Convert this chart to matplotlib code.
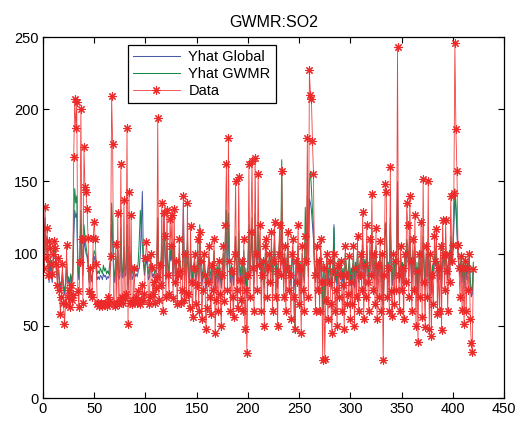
import matplotlib
matplotlib.use("Agg")
import matplotlib.pyplot as plt
import numpy as np

title = "GWMR:SO2"
labels = ["Yhat Global", "Yhat GWMR", "Data"]
xticks = [0, 50, 100, 150, 200, 250, 300, 350, 400, 450]
yticks = [0, 50, 100, 150, 200, 250]

data = [
    90, 132, 97, 118, 85, 109, 104, 93, 86, 100,
    109, 104, 93, 78, 97, 75, 58, 70, 93, 66,
    51, 65, 106, 70, 75, 63, 78, 68, 71, 167,
    207, 187, 205, 74, 63, 94, 200, 110, 66, 174,
    146, 143, 131, 111, 74, 90, 72, 70, 111, 122,
    110, 93, 65, 66, 64, 65, 66, 64, 65, 65,
    66, 64, 70, 65, 67, 98, 209, 176, 65, 64,
    107, 66, 128, 65, 68, 162, 70, 66, 137, 69,
    72, 187, 51, 143, 66, 127, 65, 68, 90, 67,
    70, 66, 74, 67, 65, 68, 78, 68, 72, 97,
    108, 97, 65, 70, 100, 91, 72, 80, 66, 76,
    84, 194, 68, 92, 78, 135, 60, 128, 112, 70,
    130, 85, 72, 124, 105, 127, 69, 131, 80, 95,
    65, 85, 110, 88, 66, 75, 140, 68, 100, 73,
    135, 72, 62, 119, 80, 56, 90, 100, 65, 78,
    110, 60, 115, 95, 55, 75, 100, 85, 48, 62,
    80, 105, 70, 58, 92, 75, 110, 45, 68, 88,
    60, 95, 72, 50, 85, 105, 67, 120, 162, 75,
    180, 95, 60, 88, 70, 56, 100, 150, 75, 62,
    153, 82, 68, 95, 60, 110, 48, 75, 31, 85,
    162, 70, 115, 164, 90, 60, 166, 100, 75, 155,
    92, 120, 60, 85, 95, 50, 105, 110, 70, 90,
    100, 80, 115, 60, 95, 122, 70, 88, 50, 100,
    120, 85, 157, 95, 70, 105, 60, 90, 115, 75,
    85, 55, 100, 110, 70, 48, 95, 80, 120, 65,
    90, 45, 105, 75, 60, 112, 95, 180, 70, 227,
    210, 207, 178, 155, 85, 60, 105, 75, 95, 60,
    110, 80, 26, 90, 27, 68, 100, 55, 80, 95,
    65, 45, 88, 100, 60, 75, 50, 92, 70, 85,
    95, 60, 78, 48, 105, 85, 65, 72, 98, 55,
    80, 65, 105, 50, 90, 70, 112, 60, 85, 100,
    75, 129, 55, 92, 70, 120, 80, 60, 110, 85,
    141, 75, 100, 65, 118, 55, 92, 70, 109, 60,
    100, 26, 85, 148, 143, 70, 90, 60, 160, 74,
    57, 100, 65, 95, 75, 243, 85, 60, 105, 75,
    90, 55, 100, 80, 135, 120, 70, 140, 95, 60,
    110, 75, 127, 50, 88, 39, 100, 70, 122, 56,
    152, 80, 49, 105, 70, 150, 48, 100, 43, 85,
    65, 112, 95, 117, 58, 90, 60, 105, 47, 123,
    99, 75, 123, 88, 60, 100, 80, 140, 95, 106,
    142, 246, 186, 157, 106, 90, 70, 98, 61, 90,
    51, 95, 60, 90, 75, 100, 55, 38, 32, 89,
]

yhat_global = [
    88, 125, 100, 112, 88, 80, 95, 85, 80, 92,
    100, 98, 88, 82, 90, 80, 75, 78, 85, 76,
    72, 78, 90, 80, 82, 76, 85, 80, 82, 110,
    130, 125, 128, 88, 82, 95, 120, 95, 85, 110,
    105, 100, 98, 92, 80, 86, 82, 80, 92, 98,
    95, 88, 82, 84, 82, 85, 84, 82, 86, 84,
    85, 82, 84, 83, 86, 92, 120, 110, 84, 80,
    92, 84, 100, 82, 84, 110, 85, 83, 100, 84,
    86, 112, 75, 100, 82, 95, 82, 84, 88, 84,
    86, 84, 88, 90, 100, 120, 143, 95, 85, 92,
    95, 90, 82, 84, 92, 88, 84, 86, 82, 85,
    88, 115, 84, 90, 86, 105, 80, 130, 100, 82,
    105, 88, 84, 100, 95, 102, 82, 105, 86, 90,
    80, 86, 96, 88, 82, 85, 135, 82, 92, 84,
    105, 84, 80, 98, 86, 78, 88, 92, 80, 85,
    95, 80, 100, 90, 78, 84, 92, 88, 75, 80,
    86, 95, 84, 80, 90, 85, 98, 75, 82, 88,
    80, 90, 84, 76, 88, 95, 82, 105, 115, 86,
    120, 92, 80, 88, 84, 78, 92, 105, 86, 80,
    110, 88, 82, 90, 80, 98, 76, 86, 70, 88,
    112, 84, 98, 115, 90, 80, 118, 95, 86, 110,
    92, 100, 80, 88, 92, 76, 95, 98, 84, 90,
    94, 86, 100, 80, 92, 105, 84, 90, 76, 95,
    105, 88, 130, 95, 84, 96, 80, 90, 100, 86,
    88, 78, 94, 98, 84, 75, 92, 86, 100, 82,
    90, 76, 96, 86, 80, 98, 92, 125, 84, 138,
    135, 130, 120, 110, 88, 80, 95, 84, 92, 80,
    98, 86, 65, 90, 68, 82, 94, 78, 86, 92,
    82, 75, 88, 120, 80, 86, 76, 92, 84, 88,
    92, 80, 86, 75, 96, 88, 82, 84, 94, 78,
    86, 82, 96, 76, 90, 84, 98, 80, 88, 94,
    86, 105, 78, 92, 84, 100, 88, 80, 98, 88,
    110, 86, 94, 82, 100, 78, 90, 84, 96, 80,
    92, 65, 88, 115, 118, 84, 90, 80, 120, 86,
    78, 94, 82, 92, 86, 150, 88, 80, 96, 86,
    90, 78, 94, 86, 105, 100, 84, 108, 92, 80,
    98, 86, 100, 76, 90, 70, 94, 84, 98, 78,
    108, 88, 75, 96, 84, 105, 76, 94, 72, 88,
    82, 96, 92, 98, 80, 90, 82, 95, 76, 100,
    94, 86, 100, 90, 82, 95, 88, 108, 92, 98,
    120, 140, 130, 115, 98, 90, 84, 94, 80, 90,
    76, 92, 82, 90, 86, 94, 78, 70, 72, 90,
]

yhat_gwmr = [
    92, 120, 102, 108, 92, 85, 98, 90, 84, 95,
    104, 100, 90, 85, 92, 82, 78, 80, 88, 78,
    74, 80, 95, 82, 84, 78, 86, 82, 85, 125,
    145, 135, 140, 92, 85, 98, 130, 100, 88, 120,
    112, 105, 100, 95, 82, 90, 85, 82, 96, 102,
    100, 92, 86, 88, 86, 90, 88, 86, 92, 88,
    90, 86, 88, 86, 92, 98, 135, 118, 88, 84,
    98, 88, 105, 86, 88, 118, 90, 86, 105, 88,
    90, 120, 78, 105, 86, 100, 86, 88, 92, 88,
    90, 88, 95, 110, 130, 115, 105, 96, 88, 95,
    98, 94, 86, 88, 95, 92, 88, 90, 86, 88,
    92, 125, 88, 94, 90, 110, 84, 118, 104, 86,
    108, 92, 88, 104, 98, 106, 86, 110, 90, 94,
    84, 90, 100, 92, 86, 88, 118, 86, 95, 88,
    110, 88, 84, 102, 90, 82, 92, 95, 84, 88,
    98, 84, 120, 94, 82, 88, 96, 92, 78, 84,
    90, 98, 88, 84, 94, 88, 102, 78, 86, 92,
    84, 94, 88, 80, 92, 100, 86, 112, 130, 90,
    128, 96, 84, 92, 88, 82, 96, 112, 90, 84,
    116, 92, 86, 94, 84, 102, 80, 90, 72, 92,
    120, 88, 102, 125, 94, 84, 128, 100, 90, 118,
    96, 105, 84, 92, 96, 78, 100, 102, 88, 94,
    98, 90, 105, 82, 96, 110, 88, 94, 78, 100,
    110, 92, 165, 100, 88, 100, 82, 94, 105, 90,
    92, 80, 98, 102, 60, 45, 96, 90, 105, 86,
    94, 78, 100, 90, 84, 132, 96, 140, 88, 150,
    157, 145, 130, 118, 92, 84, 100, 88, 96, 84,
    102, 90, 62, 94, 65, 86, 98, 82, 90, 96,
    86, 78, 92, 118, 84, 90, 80, 96, 88, 92,
    96, 84, 90, 78, 100, 92, 86, 88, 98, 82,
    90, 86, 100, 80, 94, 88, 102, 84, 92, 98,
    90, 110, 82, 96, 88, 105, 92, 84, 102, 92,
    115, 90, 98, 86, 105, 82, 94, 88, 100, 84,
    96, 62, 92, 120, 122, 88, 94, 84, 125, 90,
    82, 98, 86, 96, 90, 140, 92, 84, 100, 90,
    94, 82, 98, 90, 110, 105, 88, 112, 96, 84,
    102, 90, 104, 80, 94, 72, 98, 88, 102, 82,
    112, 92, 78, 100, 88, 110, 80, 98, 75, 92,
    86, 100, 96, 102, 84, 94, 86, 98, 80, 104,
    98, 90, 104, 94, 86, 98, 92, 112, 96, 102,
    128, 145, 135, 118, 102, 94, 88, 98, 84, 94,
    80, 96, 86, 94, 90, 98, 82, 74, 76, 94,
]

plt.rcParams['font.family'] = ['Liberation Sans', 'DejaVu Sans']

x = np.arange(1, len(data) + 1)

fig = plt.figure(figsize=(5.21, 4.21), dpi=100)
ax = fig.add_axes([0.0825, 0.0546, 0.885, 0.8575])

ax.plot(x, yhat_global, color='#4a5aa8', lw=0.75, label=labels[0])
ax.plot(x, yhat_gwmr, color='#1a8a4a', lw=0.75, label=labels[1])
ax.plot(x, data, color='#f04040', lw=0.6, marker=(8, 2, 0), markersize=6,
        markeredgewidth=0.8, markeredgecolor='#ec2a2a', label=labels[2])

ax.set_xlim(0, 450)
ax.set_ylim(0, 250)
ax.set_xticks(xticks)
ax.set_yticks(yticks)
ax.tick_params(direction='in', top=True, right=True, length=4, width=0.8,
               labelsize=10.5, pad=3)
for s in ax.spines.values():
    s.set_linewidth(0.9)
ax.set_title(title, fontsize=11.5, pad=7)

leg = ax.legend(loc='upper left', bbox_to_anchor=(0.184, 0.977), fontsize=10.5,
                frameon=True, fancybox=False, edgecolor='black', framealpha=1,
                handlelength=3.2, borderpad=0.35, labelspacing=0.2, handletextpad=0.6,
                borderaxespad=0)
leg.get_frame().set_linewidth(0.9)

fig.savefig('out.png', dpi=100)
